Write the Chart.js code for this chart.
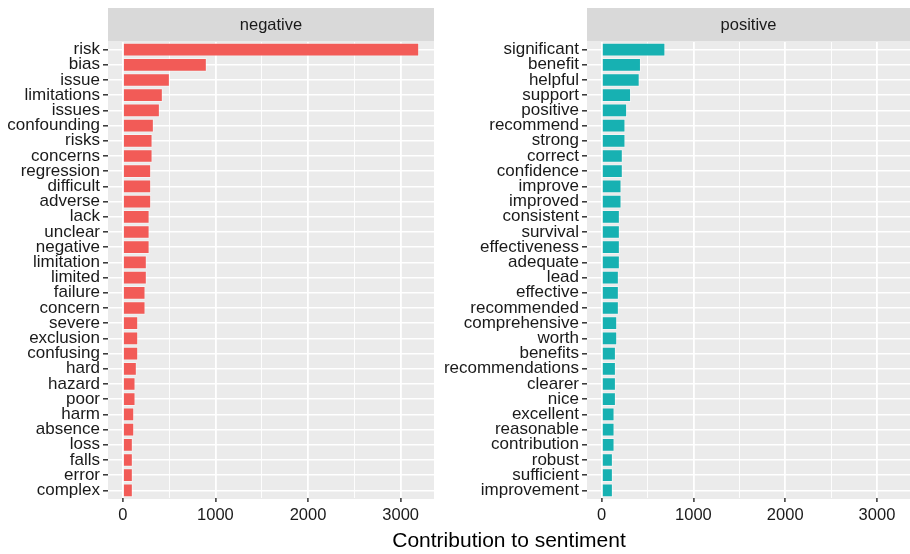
<!DOCTYPE html>
<html>
<head>
<meta charset="utf-8">
<script src="https://cdn.jsdelivr.net/npm/chart.js@4/dist/chart.umd.min.js"></script>
<style>
  body { margin: 0; background: #fff; }
  #wrap { position: relative; width: 910px; height: 554px; overflow: hidden; }
  canvas { position: absolute; top: 0; }
  #neg { left: 0; }
  #pos { left: 440px; }
  #xtitle { position: absolute; left: 108px; width: 802px; top: 528px; text-align: center;
            font: 21px "Liberation Sans", Arial, sans-serif; color: #000; }
</style>
</head>
<body>
<div id="wrap">
  <canvas id="neg" width="434" height="554"></canvas>
  <canvas id="pos" width="470" height="554"></canvas>
  <div id="xtitle">Contribution to sentiment</div>
</div>
<script>
var negWords = ["risk", "bias", "issue", "limitations", "issues", "confounding", "risks", "concerns",
    "regression", "difficult", "adverse", "lack", "unclear", "negative", "limitation", "limited",
    "failure", "concern", "severe", "exclusion", "confusing", "hard", "hazard", "poor", "harm",
    "absence", "loss", "falls", "error", "complex"];
var negValues = [3200, 907, 508, 432, 400, 335, 321, 321, 306, 306, 306, 289, 289, 289, 259, 259,
    245, 245, 166, 166, 166, 151, 137, 137, 123, 123, 108, 108, 108, 108];

var posWords = ["significant", "benefit", "helpful", "support", "positive", "recommend", "strong",
    "correct", "confidence", "improve", "improved", "consistent", "survival", "effectiveness",
    "adequate", "lead", "effective", "recommended", "comprehensive", "worth", "benefits",
    "recommendations", "clearer", "nice", "excellent", "reasonable", "contribution", "robust",
    "sufficient", "improvement"];
var posValues = [694, 428, 414, 320, 277, 259, 259, 230, 230, 216, 216, 198, 198, 198, 198, 187,
    187, 187, 169, 169, 155, 155, 155, 155, 140, 140, 140, 122, 122, 122];

var xTicks = [0, 500, 1000, 1500, 2000, 2500, 3000];
var xRange = [-160, 3360];

var FONT = "'Liberation Sans', Arial, sans-serif";

// grey panel + facet strip, like ggplot
var panelPlugin = {
    id: "panel",
    beforeDraw: function(chart, args, opts) {
        var a = chart.chartArea, ctx = chart.ctx;
        ctx.save();
        ctx.fillStyle = "#EBEBEB";
        ctx.fillRect(a.left, a.top - 1, a.right - a.left, a.bottom - a.top + 2);
        ctx.fillStyle = "#D9D9D9";
        ctx.fillRect(a.left, 8, a.right - a.left, a.top - 1 - 8);
        ctx.fillStyle = "#1a1a1a";
        ctx.font = "16.5px " + FONT;
        ctx.textAlign = "center";
        ctx.textBaseline = "middle";
        ctx.fillText(opts.text, (a.left + a.right) / 2, 25.5);
        ctx.restore();
    }
};

function make_panel(id, words, values, color, title, axisWidth){
    new Chart(document.getElementById(id), {
        type: "bar",
        data: {
            labels: words,
            datasets: [{
                data: values,
                backgroundColor: color,
                borderColor: "rgba(255,255,255,0.45)",
                borderWidth: 1,
                categoryPercentage: 0.9,
                barPercentage: 1
            }]
        },
        plugins: [panelPlugin],
        options: {
            indexAxis: "y",
            responsive: false,
            animation: false,
            layout: {padding: {top: 42, bottom: 26, left: 0, right: 0}},
            plugins: {
                legend: {display: false},
                tooltip: {enabled: false},
                panel: {text: title}
            },
            scales: {
                x: {
                    min: xRange[0],
                    max: xRange[1],
                    afterBuildTicks: function(scale){
                        scale.ticks = xTicks.map(function(v){ return {value: v}; });
                    },
                    afterFit: function(scale){ scale.height = 30; },
                    border: {display: false},
                    grid: {
                        color: "#ffffff",
                        lineWidth: function(c){ return c.tick && c.tick.value % 1000 === 0 ? 1.8 : 0.9; },
                        tickColor: function(c){ return c.tick && c.tick.value % 1000 === 0 ? "#333333" : "rgba(0,0,0,0)"; },
                        tickLength: 4,
                        tickWidth: 1.5
                    },
                    ticks: {
                        padding: 4,
                        color: "#1a1a1a",
                        font: {family: FONT, size: 16.5},
                        maxRotation: 0,
                        callback: function(v){ return v % 1000 === 0 ? String(v) : ""; }
                    }
                },
                y: {
                    afterFit: function(scale){ scale.width = axisWidth; },
                    border: {display: false},
                    grid: {
                        offset: false,
                        color: "#ffffff",
                        lineWidth: 1.6,
                        tickColor: "#333333",
                        tickLength: 5,
                        tickWidth: 1.5
                    },
                    ticks: {
                        autoSkip: false,
                        padding: 3,
                        color: "#1a1a1a",
                        font: {family: FONT, size: 17}
                    }
                }
            }
        }
    });
}

function main(){
    make_panel("neg", negWords, negValues, "#F25B57", "negative", 108);
    make_panel("pos", posWords, posValues, "#17B1B2", "positive", 147);
}

main();
</script>
</body>
</html>
